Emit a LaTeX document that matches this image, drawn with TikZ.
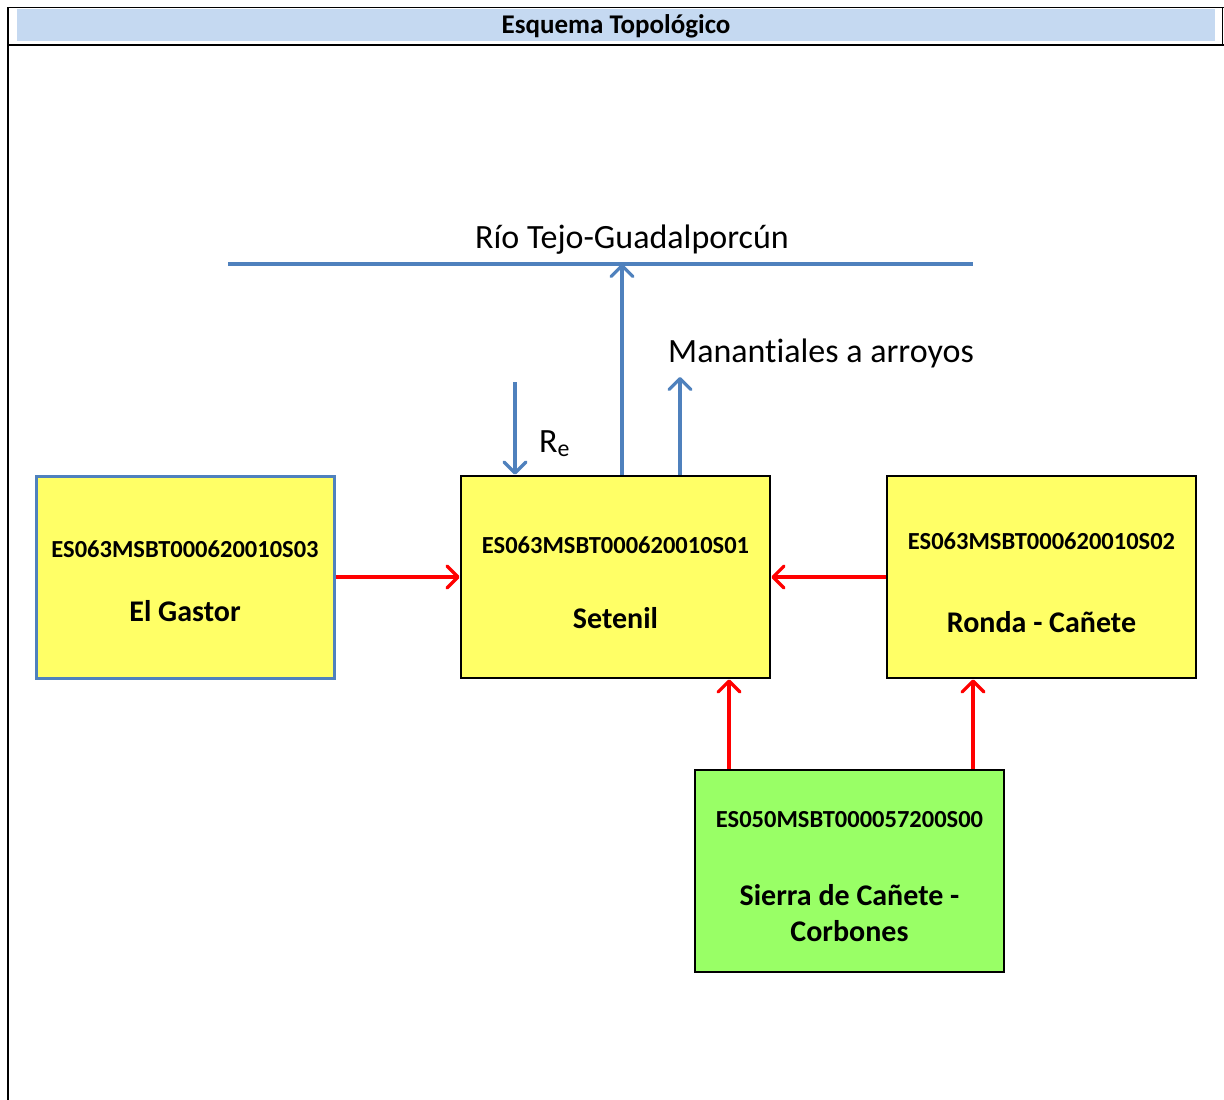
\documentclass[tikz,border=0pt]{standalone}
\usepackage{fontspec}
\setmainfont[Ligatures=CommonOff]{Carlito}
\usetikzlibrary{arrows.meta}
\definecolor{hdrblue}{HTML}{C5D9F1}
\definecolor{flowblue}{HTML}{4F81BD}
\definecolor{boxyellow}{HTML}{FFFF66}
\definecolor{boxgreen}{HTML}{99FF66}
\tikzset{
  unit/.style={draw=black, line width=2.8pt, minimum width=309pt, minimum height=202pt, inner sep=0pt},
  code/.style={font=\fontsize{24.5}{28}\selectfont\bfseries},
  bname/.style={font=\fontsize{30}{36}\selectfont\bfseries, align=center},
  tip/.style={-{Straight Barb[length=11pt,width=22pt,line width=3.2pt,round]}},
  redflow/.style={draw=red, line width=3.4pt, tip},
  blueflow/.style={draw=flowblue, line width=3.4pt, tip},
  lbl/.style={font=\fontsize{34}{40}\selectfont, inner sep=0pt}
}
\begin{document}
\begin{tikzpicture}[x=1pt,y=-1pt]
\useasboundingbox (0,0) rectangle (1224,1100);
% sheet frame and title band
\fill[hdrblue] (17,9) rectangle (1215,41);
\node[font=\fontsize{27}{30}\selectfont\bfseries, inner sep=0pt] (title) at (616,26.5) {Esquema Topológico};
\draw[line width=1.5pt] (7,7.5) -- (1224,7.5);
\draw[line width=2.5pt] (7,45) -- (1224,45);
\draw[line width=1.5pt] (8,7) -- (8,1100);
\draw[line width=1.5pt] (1222.5,7) -- (1222.5,45);

% river
\coordinate (rivL) at (228,264);
\coordinate (rivR) at (973,264);
\draw[flowblue, line width=3.4pt] (rivL) -- (rivR);
\node[lbl] (rio) at (632,240) {Río Tejo-Guadalporcún};

% groundwater bodies
\node[unit, fill=boxyellow, draw=flowblue, line width=3pt, minimum width=298pt] (gastor) at (185,577) {};
\node[code] at (185,549) {ES063MSBT000620010S03};
\node[bname] at (185,611) {El Gastor};

\node[unit, fill=boxyellow] (setenil) at (615.5,577) {};
\node[code] at (615.5,545) {ES063MSBT000620010S01};
\node[bname] at (615.5,618) {Setenil};

\node[unit, fill=boxyellow] (ronda) at (1041.5,577) {};
\node[code] at (1041.5,541) {ES063MSBT000620010S02};
\node[bname] at (1041.5,622) {Ronda - Cañete};

\node[unit, fill=boxgreen] (sierra) at (849.5,871) {};
\node[code] at (849.5,820) {ES050MSBT000057200S00};
\node[bname] at (849.5,913) {Sierra de Cañete -\\Corbones};

% lateral transfers
\draw[redflow] (gastor.east) -- (setenil.west);
\draw[redflow] (ronda.west) -- (setenil.east);
\draw[redflow] (sierra.north -| 729,0) -- (setenil.south -| 729,0);
\draw[redflow] (sierra.north -| 973,0) -- (ronda.south -| 973,0);

% recharge and discharges
\coordinate (reTop) at (515,382);
\draw[blueflow] (reTop) -- (setenil.north -| reTop);
\node[lbl, anchor=west] (re) at (539,444) {R\textsubscript{e}};
\draw[blueflow] (setenil.north -| 622,0) -- (rivL -| 622,0);
\coordinate (manTop) at (680,377);
\draw[blueflow] (setenil.north -| manTop) -- (manTop);
\node[lbl, anchor=west] (man) at (668,353) {Manantiales a arroyos};
\end{tikzpicture}
\end{document}
